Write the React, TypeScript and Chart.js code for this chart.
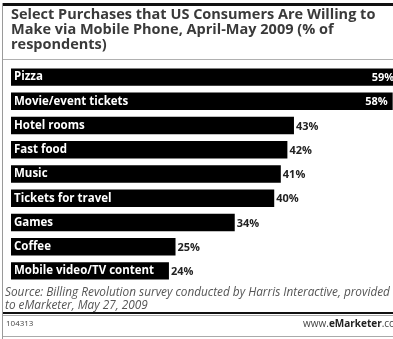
import React, { useEffect, useRef } from "react";
import { Chart, registerables } from "chart.js";

Chart.register(...registerables);

const categories = [
  "Pizza",
  "Movie/event tickets",
  "Hotel rooms",
  "Fast food",
  "Music",
  "Tickets for travel",
  "Games",
  "Coffee",
  "Mobile video/TV content",
];
const values = [59, 58, 43, 42, 41, 40, 34, 25, 24];
const titleLines = [
  "Select Purchases that US Consumers Are Willing to",
  "Make via Mobile Phone, April-May 2009 (% of",
  "respondents)",
];
const sourceLines = [
  "Source: Billing Revolution survey conducted by Harris Interactive, provided",
  "to eMarketer, May 27, 2009",
];
const footerId = "104313";

const FONT = "'Open Sans', 'Noto Sans', sans-serif";

const valueLabels = {
  id: "valueLabels",
  afterDatasetsDraw(chart: any) {
    const ctx = chart.ctx;
    const meta = chart.getDatasetMeta(0);
    ctx.save();
    ctx.font = `bold 11px ${FONT}`;
    ctx.textBaseline = "middle";
    meta.data.forEach((el: any, i: number) => {
      const v = values[i];
      const txt = v + "%";
      if (v >= 50) {
        ctx.fillStyle = "#ffffff";
        ctx.textAlign = "right";
        ctx.fillText(txt, el.x - 5, el.y + 1);
      } else {
        ctx.fillStyle = "#222222";
        ctx.textAlign = "left";
        ctx.fillText(txt, el.x + 2, el.y + 1);
      }
    });
    ctx.restore();
  },
};

export default function App() {
  const ref = useRef<HTMLCanvasElement>(null);
  useEffect(() => {
    if (!ref.current) return;
    const chart = new Chart(ref.current, {
      type: "bar",
      data: {
        labels: categories,
        datasets: [
          {
            data: values,
            backgroundColor: "#000000",
            borderWidth: 0,
            barPercentage: 0.72,
            categoryPercentage: 1,
          },
        ],
      },
      options: {
        indexAxis: "y",
        animation: false,
        responsive: false,
        maintainAspectRatio: false,
        devicePixelRatio: 1,
        layout: { padding: { left: 5, right: 0, top: 65, bottom: 56 } },
        plugins: {
          legend: { display: false },
          tooltip: { enabled: false },
          title: { display: false },
        },
        scales: {
          x: { display: false, min: 0, max: 62 },
          y: {
            grid: { display: false, drawTicks: false },
            border: { display: false },
            ticks: {
              z: 1,
              mirror: true,
              padding: 3,
              color: "#ffffff",
              font: { family: FONT, weight: "bold", size: 11.5 },
            },
          },
        },
      },
      plugins: [valueLabels],
    });
    return () => chart.destroy();
  }, []);

  return (
    <div
      style={{
        position: "absolute",
        left: 0,
        top: 0,
        width: 393,
        height: 339,
        overflow: "hidden",
        background: "#ffffff",
        fontFamily: FONT,
      }}
    >
      <canvas
        ref={ref}
        width={419}
        height={339}
        style={{ position: "absolute", left: 0, top: 0, width: 419, height: 339 }}
      />
      <div style={{ position: "absolute", left: 2, top: 3, width: 400, height: 3, background: "#111" }} />
      <div style={{ position: "absolute", left: 2, top: 3, width: 1, height: 336, background: "#9a9a9a" }} />
      <div
        style={{
          position: "absolute",
          left: 11,
          top: 7,
          fontSize: 14.5,
          fontWeight: 700,
          lineHeight: "14.8px",
          color: "#3a3a3a",
          whiteSpace: "nowrap",
        }}
      >
        {titleLines.map((t, i) => (
          <div key={i}>{t}</div>
        ))}
      </div>
      <div style={{ position: "absolute", left: 3, top: 59, width: 400, height: 1, background: "#b0b0b0" }} />
      <div
        style={{
          position: "absolute",
          left: 5,
          top: 285,
          fontSize: 11.8,
          fontStyle: "italic",
          lineHeight: "12.5px",
          color: "#555",
          whiteSpace: "nowrap",
        }}
      >
        {sourceLines.map((t, i) => (
          <div key={i}>{t}</div>
        ))}
      </div>
      <div style={{ position: "absolute", left: 3, top: 312, width: 400, height: 2, background: "#111" }} />
      <div style={{ position: "absolute", left: 3, top: 315, width: 400, height: 1, background: "#aaa" }} />
      <div
        style={{
          position: "absolute",
          left: 6,
          top: 318,
          fontSize: 8,
          lineHeight: "10px",
          color: "#444",
          whiteSpace: "nowrap",
        }}
      >
        {footerId}
      </div>
      <div
        style={{
          position: "absolute",
          left: 303,
          top: 318,
          fontSize: 10,
          lineHeight: "10px",
          color: "#444",
          whiteSpace: "nowrap",
        }}
      >
        www.<b style={{ color: "#222" }}>eMarketer</b>.com
      </div>
      <div style={{ position: "absolute", left: 3, top: 336, width: 400, height: 1, background: "#aaa" }} />
    </div>
  );
}
